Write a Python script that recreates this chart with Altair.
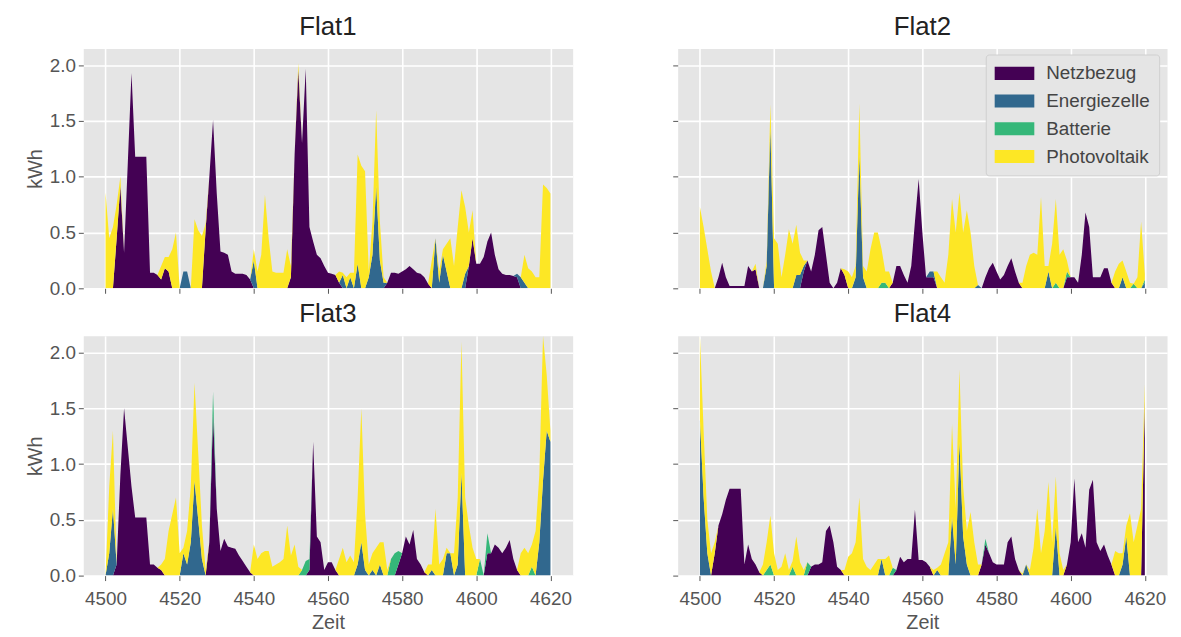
import altair as alt
import pandas as pd

hours = list(range(4500, 4621))
sources = ["Netzbezug", "Energiezelle", "Batterie", "Photovoltaik"]
colors = ["#440154", "#31688e", "#35b779", "#fde725"]
flats = ["Flat1", "Flat2", "Flat3", "Flat4"]
x_ticks = [4500, 4520, 4540, 4560, 4580, 4600, 4620]
y_ticks = [0.0, 0.5, 1.0, 1.5, 2.0]

# ---------------- Flat1 ----------------
netz1 = [0, 0, 0, 0.45, 0.92, 0.32, 1.12, 1.93, 1.18, 1.18,
         1.18, 1.18, 0.14, 0.14, 0.12, 0.08, 0.18, 0.15, 0, 0,
         0, 0, 0, 0, 0, 0, 0, 0.53, 1.0, 1.51,
         0.85, 0.33, 0.32, 0.3, 0.15, 0.13, 0.13, 0.13, 0.12, 0.08,
         0, 0, 0, 0, 0, 0, 0, 0, 0, 0,
         0.1, 1.2, 1.96, 1.3, 1.97, 0.55, 0.42, 0.3, 0.27, 0.2,
         0.14, 0.13, 0.12, 0.05, 0, 0, 0, 0, 0, 0,
         0, 0, 0, 0, 0, 0, 0.05, 0.14, 0.14, 0.13,
         0.15, 0.17, 0.2, 0.17, 0.14, 0.13, 0.1, 0.04, 0, 0,
         0, 0, 0, 0, 0, 0, 0, 0, 0.2, 0.45,
         0.22, 0.22, 0.28, 0.42, 0.5, 0.3, 0.17, 0.13, 0.12, 0.12,
         0.11, 0.1, 0, 0, 0, 0, 0, 0, 0, 0,
         0]
zelle1 = [0, 0, 0, 0, 0, 0, 0, 0, 0, 0,
          0, 0, 0, 0, 0, 0, 0, 0, 0, 0,
          0, 0.15, 0.15, 0, 0, 0, 0, 0, 0, 0,
          0, 0, 0, 0, 0, 0, 0, 0, 0, 0,
          0.25, 0, 0, 0, 0, 0, 0, 0, 0, 0,
          0, 0, 0, 0, 0, 0, 0, 0, 0, 0,
          0, 0, 0, 0, 0.12, 0, 0.1, 0, 0.22, 0,
          0, 0.1, 0.3, 0.92, 0.25, 0.05, 0, 0, 0, 0,
          0, 0, 0, 0, 0, 0, 0, 0, 0, 0.45,
          0.05, 0.3, 0.15, 0, 0, 0, 0, 0.13, 0, 0,
          0, 0, 0, 0, 0, 0, 0, 0, 0, 0,
          0, 0.03, 0.1, 0.05, 0, 0, 0, 0, 0, 0,
          0]
batt1 = [0, 0, 0, 0, 0, 0, 0, 0, 0, 0,
         0, 0, 0, 0, 0, 0, 0, 0, 0, 0,
         0, 0, 0, 0, 0, 0, 0, 0, 0, 0,
         0, 0, 0, 0, 0, 0, 0, 0, 0, 0,
         0, 0, 0, 0, 0, 0, 0, 0, 0, 0,
         0, 0, 0, 0, 0, 0, 0, 0, 0, 0,
         0, 0, 0, 0, 0, 0, 0, 0, 0, 0,
         0, 0, 0, 0, 0, 0, 0, 0, 0, 0,
         0, 0, 0, 0, 0, 0, 0, 0, 0, 0,
         0, 0, 0, 0, 0, 0, 0, 0, 0, 0,
         0, 0, 0, 0, 0, 0, 0, 0, 0, 0,
         0, 0, 0, 0, 0, 0, 0, 0, 0, 0,
         0]
pv1 = [0.86, 0.45, 0.55, 0.3, 0.08, 0, 0, 0, 0, 0,
       0, 0, 0, 0, 0, 0.12, 0.1, 0.13, 0.35, 0.5,
       0, 0, 0, 0, 0.62, 0.52, 0.47, 0.05, 0, 0,
       0, 0, 0, 0, 0, 0, 0, 0, 0, 0,
       0.1, 0.15, 0.3, 0.84, 0.45, 0.15, 0.14, 0.14, 0.14, 0.35,
       0.1, 0, 0.06, 0, 0, 0, 0, 0, 0, 0,
       0, 0, 0, 0.1, 0.02, 0.1, 0.04, 0.14, 0.98, 1.1,
       1.05, 0.05, 0.3, 0.68, 0.35, 0.05, 0, 0, 0, 0,
       0, 0, 0, 0, 0, 0, 0, 0, 0.25, 0,
       0.1, 0.05, 0.25, 0.45, 0.2, 0.55, 0.88, 0.6, 0.3, 0.25,
       0, 0, 0, 0, 0, 0, 0, 0, 0, 0,
       0, 0, 0, 0.25, 0.18, 0.15, 0.1, 0.1, 0.93, 0.9,
       0.85]

# ---------------- Flat2 ----------------
netz2 = [0, 0, 0, 0, 0, 0.1, 0.23, 0.1, 0.02, 0.02,
         0.02, 0.02, 0.02, 0.2, 0.15, 0.17, 0, 0, 0, 0,
         0, 0, 0, 0, 0, 0, 0, 0, 0.15, 0.25,
         0.15, 0.3, 0.52, 0.55, 0.3, 0.05, 0, 0.05, 0.18, 0.12,
         0, 0, 0, 0, 0, 0, 0, 0, 0, 0,
         0, 0, 0.05, 0.2, 0.2, 0.12, 0.05, 0.2, 0.6, 0.98,
         0.5, 0.1, 0.1, 0.1, 0, 0, 0, 0, 0, 0,
         0, 0, 0, 0, 0, 0, 0, 0.1, 0.18, 0.23,
         0.15, 0.08, 0.12, 0.2, 0.27, 0.15, 0.05, 0, 0, 0,
         0, 0, 0, 0, 0, 0, 0, 0, 0, 0.1,
         0.1, 0.1, 0.05, 0.3, 0.68, 0.55, 0.1, 0.1, 0.1, 0.18,
         0.18, 0.05, 0, 0, 0, 0, 0, 0, 0, 0,
         0]
zelle2 = [0, 0, 0, 0, 0, 0, 0, 0, 0, 0,
          0, 0, 0, 0, 0, 0, 0, 0, 0.2, 1.45,
          0, 0, 0, 0, 0, 0, 0.12, 0.12, 0.05, 0,
          0, 0, 0, 0, 0, 0, 0, 0, 0, 0,
          0, 0, 0.1, 1.2, 0.1, 0, 0, 0, 0, 0,
          0, 0, 0, 0, 0, 0, 0, 0, 0, 0,
          0, 0, 0.05, 0.05, 0, 0, 0, 0, 0, 0,
          0, 0, 0, 0, 0, 0.03, 0, 0, 0, 0,
          0, 0, 0, 0, 0, 0, 0, 0, 0, 0,
          0, 0, 0, 0, 0.15, 0, 0, 0, 0, 0,
          0, 0, 0, 0, 0, 0, 0, 0, 0, 0,
          0, 0, 0, 0, 0.1, 0, 0, 0, 0, 0,
          0.05]
batt2 = [0, 0, 0, 0, 0, 0, 0, 0, 0, 0,
         0, 0, 0, 0, 0, 0, 0, 0, 0, 0,
         0, 0, 0, 0, 0, 0, 0, 0, 0, 0,
         0, 0, 0, 0, 0, 0, 0, 0, 0, 0,
         0, 0, 0, 0, 0, 0, 0, 0, 0, 0.05,
         0.05, 0, 0, 0, 0, 0, 0, 0, 0, 0,
         0, 0, 0, 0, 0, 0, 0, 0, 0, 0,
         0, 0, 0, 0, 0, 0, 0, 0, 0, 0,
         0, 0, 0, 0, 0, 0, 0, 0, 0, 0,
         0, 0, 0, 0, 0, 0, 0.05, 0, 0, 0.05,
         0, 0, 0, 0, 0, 0, 0, 0, 0, 0,
         0, 0, 0, 0, 0, 0, 0, 0.04, 0, 0,
         0.03]
pv2 = [0.73, 0.55, 0.35, 0.15, 0, 0, 0, 0, 0, 0,
       0, 0, 0, 0, 0, 0.05, 0, 0, 0.05, 0.2,
       0.45, 0.4, 0.1, 0.3, 0.53, 0.4, 0.45, 0.2, 0.05, 0,
       0, 0, 0, 0, 0, 0, 0, 0, 0, 0.05,
       0.15, 0.1, 0.1, 0.46, 0.1, 0.15, 0.35, 0.5, 0.5, 0.3,
       0.1, 0.15, 0, 0, 0, 0, 0, 0, 0, 0,
       0, 0, 0, 0, 0.15, 0.1, 0.05, 0.3, 0.8, 0.5,
       0.86, 0.5, 0.7, 0.5, 0.2, 0, 0, 0, 0, 0,
       0, 0, 0, 0, 0, 0, 0, 0.05, 0.2, 0.3,
       0.32, 0.3, 0.82, 0.2, 0.05, 0.4, 0.75, 0.3, 0.35, 0.1,
       0, 0, 0, 0, 0, 0, 0, 0, 0, 0,
       0, 0, 0.15, 0.22, 0.15, 0.15, 0.05, 0, 0.1, 0.6,
       0.05]

# ---------------- Flat3 ----------------
netz3 = [0, 0, 0, 0.1, 0.9, 1.5, 1.15, 0.8, 0.52, 0.52,
         0.52, 0.52, 0.1, 0.1, 0.07, 0.05, 0, 0, 0, 0,
         0, 0, 0, 0, 0, 0, 0, 0, 0.3, 1.45,
         0.6, 0.22, 0.33, 0.26, 0.25, 0.24, 0.18, 0.13, 0.08, 0.03,
         0, 0, 0, 0, 0, 0, 0, 0, 0, 0,
         0, 0, 0, 0, 0, 0.05, 1.2, 0.35, 0.3, 0.05,
         0.12, 0.12, 0.05, 0, 0, 0, 0, 0, 0, 0,
         0, 0, 0, 0, 0, 0, 0, 0, 0, 0.1,
         0.2, 0.35, 0.28, 0.41, 0.15, 0.1, 0.03, 0, 0, 0,
         0, 0, 0, 0, 0, 0, 0, 0, 0, 0,
         0, 0, 0, 0.2, 0.2, 0.28, 0.25, 0.2, 0.25, 0.32,
         0.15, 0.05, 0, 0, 0, 0, 0, 0, 0, 0,
         0]
zelle3 = [0, 0.2, 0.6, 0, 0, 0, 0, 0, 0, 0,
          0, 0, 0, 0, 0, 0, 0, 0, 0, 0,
          0, 0.2, 0.1, 0.3, 0.85, 0.5, 0.15, 0, 0, 0,
          0, 0, 0, 0, 0, 0, 0, 0, 0, 0,
          0, 0, 0, 0, 0, 0, 0, 0, 0, 0,
          0, 0, 0, 0, 0, 0, 0, 0, 0, 0,
          0, 0, 0, 0, 0, 0, 0, 0, 0.1, 0.3,
          0.05, 0, 0.05, 0, 0.1, 0, 0, 0, 0, 0,
          0, 0, 0, 0, 0, 0, 0, 0, 0.05, 0,
          0, 0, 0.2, 0.2, 0, 0.1, 0.92, 0, 0, 0,
          0, 0, 0, 0, 0, 0, 0, 0, 0, 0,
          0, 0, 0, 0, 0, 0, 0, 0.3, 0.85, 1.3,
          1.2]
batt3 = [0, 0, 0, 0, 0, 0, 0, 0, 0, 0,
         0, 0, 0, 0, 0, 0, 0, 0, 0, 0,
         0, 0, 0, 0, 0, 0, 0, 0, 0, 0.2,
         0, 0, 0, 0, 0, 0, 0, 0, 0, 0,
         0, 0, 0, 0, 0, 0, 0, 0, 0, 0,
         0, 0, 0, 0.05, 0.13, 0.1, 0, 0, 0, 0,
         0, 0, 0, 0, 0, 0, 0, 0, 0, 0,
         0, 0, 0, 0, 0, 0, 0, 0.15, 0.2, 0.12,
         0, 0, 0, 0, 0, 0, 0, 0, 0, 0,
         0, 0, 0, 0, 0, 0, 0, 0, 0, 0,
         0, 0.15, 0, 0.18, 0, 0, 0, 0, 0, 0,
         0, 0, 0, 0, 0, 0.08, 0, 0, 0, 0,
         0]
pv3 = [0, 0.6, 0.7, 0, 0, 0, 0, 0, 0, 0,
       0, 0, 0, 0, 0, 0.05, 0.15, 0.4, 0.55, 0.7,
       0.2, 0.05, 0.3, 0.5, 0.88, 0.6, 0.3, 0.05, 0, 0,
       0, 0, 0, 0, 0, 0, 0, 0, 0, 0,
       0.28, 0.15, 0.2, 0.22, 0.22, 0.08, 0.1, 0.12, 0.15, 0.45,
       0.18, 0.28, 0.08, 0, 0, 0, 0, 0, 0, 0,
       0, 0, 0, 0.15, 0.25, 0.12, 0.18, 0.12, 0.6, 1.2,
       0.5, 0.1, 0.15, 0.25, 0.2, 0.3, 0.05, 0, 0, 0,
       0, 0, 0, 0, 0, 0, 0, 0.1, 0.05, 0.6,
       0.1, 0.15, 0.05, 0, 0.2, 0.6, 1.18, 0.7, 0.45, 0.25,
       0.15, 0, 0, 0, 0, 0, 0, 0, 0, 0,
       0, 0, 0.2, 0.25, 0.2, 0.2, 0.4, 0.6, 1.3, 0.5,
       0.1]

# ---------------- Flat4 ----------------
netz4 = [0, 0, 0, 0, 0.2, 0.45, 0.55, 0.68, 0.78, 0.78,
         0.78, 0.78, 0.1, 0.28, 0.15, 0.1, 0.03, 0, 0, 0,
         0, 0, 0, 0, 0, 0, 0, 0, 0, 0,
         0.08, 0.1, 0.1, 0.12, 0.4, 0.45, 0.3, 0.08, 0.05, 0,
         0, 0, 0, 0, 0, 0, 0, 0, 0, 0,
         0, 0, 0, 0.05, 0.17, 0.12, 0.15, 0.15, 0.59, 0.14,
         0.14, 0.12, 0.08, 0, 0, 0, 0, 0, 0, 0,
         0, 0, 0, 0, 0, 0, 0.1, 0.28, 0.2, 0.12,
         0.1, 0.1, 0.1, 0.3, 0.35, 0.15, 0.05, 0, 0, 0,
         0, 0, 0, 0, 0, 0, 0, 0, 0, 0.1,
         0.3, 0.87, 0.3, 0.38, 0.25, 0.77, 0.86, 0.3, 0.22, 0.28,
         0.18, 0.1, 0, 0, 0, 0, 0, 0, 0, 0,
         1.57]
zelle4 = [1.4, 0.7, 0.2, 0, 0, 0, 0, 0, 0, 0,
          0, 0, 0, 0, 0, 0, 0, 0, 0, 0,
          0, 0, 0, 0, 0, 0, 0, 0, 0, 0,
          0, 0, 0, 0, 0, 0, 0, 0, 0, 0,
          0, 0, 0, 0, 0, 0, 0, 0, 0, 0.15,
          0, 0, 0, 0, 0, 0, 0, 0, 0, 0,
          0, 0, 0, 0, 0.05, 0, 0, 0, 0.53, 0.1,
          1.2, 0.35, 0.1, 0, 0, 0, 0, 0, 0, 0,
          0, 0, 0, 0, 0, 0, 0, 0, 0.1, 0,
          0, 0, 0, 0, 0, 0, 0.44, 0, 0, 0,
          0, 0, 0, 0, 0, 0, 0, 0, 0, 0,
          0, 0, 0, 0, 0.1, 0.35, 0, 0, 0, 0,
          0]
batt4 = [0, 0, 0, 0, 0, 0, 0, 0, 0, 0,
         0, 0, 0, 0, 0, 0, 0, 0, 0.05, 0.1,
         0, 0, 0, 0, 0, 0.08, 0, 0, 0, 0.12,
         0, 0, 0, 0, 0, 0, 0, 0, 0, 0,
         0, 0, 0, 0, 0, 0, 0, 0, 0, 0,
         0, 0, 0.07, 0, 0, 0, 0, 0, 0, 0,
         0, 0, 0, 0, 0, 0, 0, 0, 0, 0,
         0, 0, 0, 0, 0, 0, 0, 0.05, 0, 0,
         0, 0, 0, 0, 0, 0, 0, 0, 0, 0,
         0, 0, 0, 0, 0, 0, 0, 0, 0, 0,
         0, 0, 0, 0, 0, 0, 0, 0, 0, 0,
         0, 0, 0, 0, 0, 0, 0, 0, 0, 0,
         0]
pv4 = [0.75, 0.6, 0.3, 0.2, 0.1, 0, 0, 0, 0, 0,
       0, 0, 0, 0, 0, 0, 0, 0.1, 0.25, 0.44,
       0.2, 0.05, 0.08, 0.2, 0.05, 0.05, 0.35, 0.12, 0.05, 0,
       0, 0, 0, 0, 0, 0, 0, 0, 0, 0.05,
       0.17, 0.2, 0.3, 0.7, 0.15, 0.08, 0.05, 0.1, 0.15, 0,
       0.15, 0.18, 0, 0, 0, 0, 0, 0, 0, 0,
       0, 0, 0, 0.05, 0.02, 0.1, 0.2, 0.3, 0.83, 0.5,
       0.65, 0.45, 0.3, 0.57, 0.3, 0.1, 0, 0, 0, 0,
       0, 0, 0, 0, 0, 0, 0, 0.02, 0, 0.05,
       0.25, 0.6, 0.2, 0.4, 0.84, 0.3, 0.45, 0.2, 0.05, 0,
       0, 0, 0, 0, 0, 0, 0, 0, 0, 0,
       0, 0, 0.22, 0.2, 0.1, 0.1, 0.56, 0.3, 0.45, 0.6,
       0.15]

series = {
    "Flat1": [netz1, zelle1, batt1, pv1],
    "Flat2": [netz2, zelle2, batt2, pv2],
    "Flat3": [netz3, zelle3, batt3, pv3],
    "Flat4": [netz4, zelle4, batt4, pv4],
}

rows = []
for flat in flats:
    for k, (src, vals) in enumerate(zip(sources, series[flat])):
        assert len(vals) == len(hours), (flat, src, len(vals))
        for h, v in zip(hours, vals):
            rows.append({"Flat": flat, "Zeit": h, "kWh": v, "Quelle": src, "ord": k})
df = pd.DataFrame(rows)

FONT = "Liberation Sans"
W, H = 494, 242


def panel(flat, show_x, show_y, show_legend):
    d = df[df["Flat"] == flat]
    x_axis = alt.Axis(values=x_ticks, labels=show_x, title="Zeit" if show_x else None,
                      labelFlush=False, format="d", labelPadding=9, titlePadding=4)
    y_axis = alt.Axis(values=y_ticks, labels=show_y, title="kWh" if show_y else None,
                      format=".1f")
    if show_legend:
        legend = alt.Legend(orient="none", legendX=311, legendY=6, title=None,
                            labelFont=FONT, labelFontSize=19, labelColor="#444444",
                            symbolType="M-1,-0.66H3V0.66H-1Z", symbolSize=400,
                            symbolStrokeWidth=0, symbolOpacity=1, labelOffset=32,
                            rowPadding=8, padding=9, fillColor="#E5E5E5",
                            strokeColor="#CFCFCF", cornerRadius=3)
    else:
        legend = None
    return alt.Chart(d).mark_area(interpolate="linear", clip=True).encode(
        x=alt.X("Zeit:Q", scale=alt.Scale(domain=[4494, 4626], nice=False, zero=False), axis=x_axis),
        y=alt.Y("kWh:Q", stack="zero", scale=alt.Scale(domain=[0, 2.15], nice=False), axis=y_axis),
        color=alt.Color("Quelle:N", scale=alt.Scale(domain=sources, range=colors), legend=legend),
        order=alt.Order("ord:Q", sort="ascending"),
    ).properties(
        width=W, height=H,
        title=alt.TitleParams(flat, fontSize=26, fontWeight="normal", font=FONT,
                              color="#222222", offset=9, anchor="middle"),
    )


top = alt.hconcat(panel("Flat1", False, True, False), panel("Flat2", False, False, True),
                  spacing=99).resolve_scale(color="independent")
bottom = alt.hconcat(panel("Flat3", True, True, False), panel("Flat4", True, False, False),
                     spacing=99).resolve_scale(color="independent")
chart = alt.vconcat(top, bottom, spacing=1).resolve_scale(color="independent")

chart = chart.configure_view(
    fill="#E5E5E5", stroke="transparent"
).configure_axis(
    grid=True, gridColor="#FFFFFF", gridWidth=1.6, domain=False,
    tickColor="#555555", tickSize=5, tickWidth=1,
    labelColor="#555555", labelFont=FONT, labelFontSize=19, labelPadding=3,
    titleColor="#555555", titleFont=FONT, titleFontSize=20, titleFontWeight="normal",
).properties(
    background="white", padding={"left": 17, "top": 2, "right": 5, "bottom": 0}
)

chart.save("out.html", embed_options={"renderer": "svg", "actions": False})
